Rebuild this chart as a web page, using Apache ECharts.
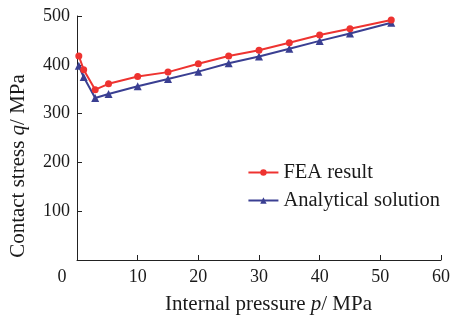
<!DOCTYPE html>
<html>
<head>
<meta charset="utf-8">
<script src="https://cdn.jsdelivr.net/npm/echarts@6/dist/echarts.min.js"></script>
<style>html,body{margin:0;padding:0;background:#fff;}#c{width:453px;height:320px;}</style>
</head>
<body>
<div id="c"></div>
<script>
var pressure = [0.3, 1.1, 3, 5.2, 10, 15, 20, 25, 30, 35, 40, 45, 51.8];
var feaResult = [418, 390, 349, 361, 376, 385, 402, 418, 430, 445, 461, 474, 492];
var analytical = [398, 375, 332, 340, 356, 371, 386, 403, 417, 433, 449, 464, 486];
var seriesNames = ['FEA result', 'Analytical solution'];

var font = '"Liberation Serif", "Times New Roman", serif';
var red = '#ee3330';
var blue = '#3a3f92';
var ink = '#1a1a1a';

function pairs(xs, ys) { return xs.map(function (x, i) { return [x, ys[i]]; }); }

var titleRich = {
  i: { fontFamily: font, fontSize: 21, fontStyle: 'italic', color: ink },
  xs: { width: 19 },
  ys: { width: 56 }
};

var chart = echarts.init(document.getElementById('c'));
chart.setOption({
  animation: false,
  backgroundColor: '#fff',
  textStyle: { fontFamily: font },
  grid: { left: 73.3, right: 12, top: 16, bottom: 56.5 },
  legend: {
    right: 8, top: 157,
    orient: 'vertical',
    itemWidth: 30, itemHeight: 8, itemGap: 7,
    textStyle: { fontFamily: font, fontSize: 20.5, color: ink },
    data: seriesNames
  },
  xAxis: {
    type: 'value', min: 0, max: 60, interval: 10,
    name: '{xs|}Internal pressure {i|p}/ MPa',
    nameLocation: 'middle', nameGap: 34,
    nameTextStyle: { fontFamily: font, fontSize: 21, color: ink, rich: titleRich },
    axisLine: { lineStyle: { color: '#222', width: 1 } },
    axisTick: { inside: true, length: 5, lineStyle: { color: '#222' } },
    axisLabel: {
      fontFamily: font, fontSize: 18, color: ink, margin: 8,
      formatter: function (v) { return v === 0 ? '{o|0}' : String(v); },
      rich: { o: { fontFamily: font, fontSize: 18, color: ink, padding: [0, 30, 0, 0] } }
    },
    splitLine: { show: false }
  },
  yAxis: {
    type: 'value', min: 0, max: 500, interval: 100,
    name: 'Contact stress {i|q}/ MPa{ys|\u00a0}',
    nameLocation: 'middle', nameGap: 48, nameRotate: 90,
    nameTextStyle: { fontFamily: font, fontSize: 21, color: ink, rich: titleRich },
    axisLine: { show: true, lineStyle: { color: '#222', width: 1 } },
    axisTick: { inside: true, length: 5, lineStyle: { color: '#222' } },
    axisLabel: {
      fontFamily: font, fontSize: 18, color: ink, margin: 7,
      formatter: function (v) { return v === 0 ? '' : String(v); }
    },
    splitLine: { show: false }
  },
  series: [
    {
      name: seriesNames[0], type: 'line', data: pairs(pressure, feaResult),
      symbol: 'circle', symbolSize: 7,
      lineStyle: { color: red, width: 2 }, itemStyle: { color: red }, z: 3
    },
    {
      name: seriesNames[1], type: 'line', data: pairs(pressure, analytical),
      symbol: 'triangle', symbolSize: 8,
      lineStyle: { color: blue, width: 2 }, itemStyle: { color: blue }, z: 2
    }
  ]
});
</script>
</body>
</html>
